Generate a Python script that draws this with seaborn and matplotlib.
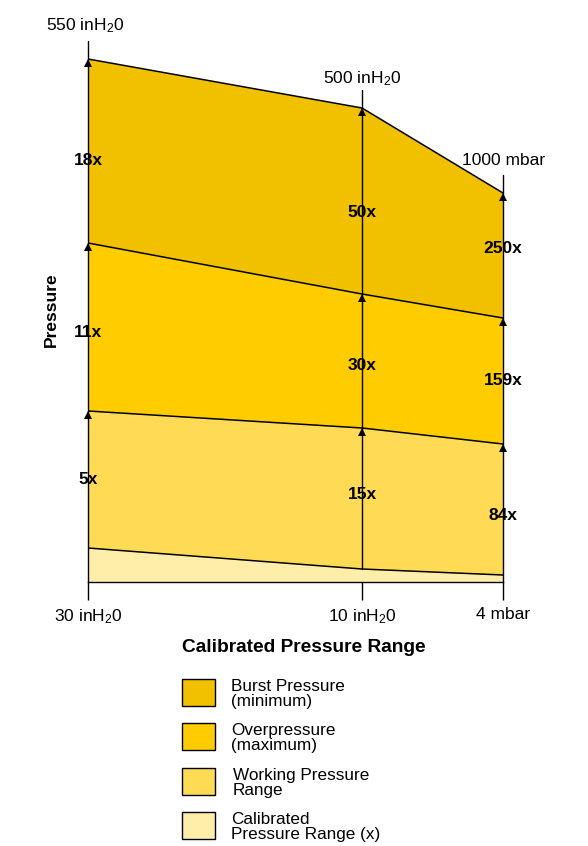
import matplotlib
matplotlib.use("Agg")
import matplotlib.pyplot as plt
from matplotlib.patches import Rectangle
import seaborn as sns
import pandas as pd
import numpy as np

# ---- data (heights, arbitrary pressure units) ----
range_labels = ["30 inH$\\mathregular{_2}$0", "10 inH$\\mathregular{_2}$0", "4 mbar"]
range_pos = [0, 274, 415]
top_labels = ["550 inH$\\mathregular{_2}$0", "500 inH$\\mathregular{_2}$0", "1000 mbar"]
burst = [523, 474, 389]
overpressure = [339, 288, 264]
working = [171, 154, 138]
calibrated = [34, 13, 7]
burst_mult = ["18x", "50x", "250x"]
over_mult = ["11x", "30x", "159x"]
work_mult = ["5x", "15x", "84x"]
band_names = [("Burst Pressure", "(minimum)"), ("Overpressure", "(maximum)"),
              ("Working Pressure", "Range"), ("Calibrated", "Pressure Range (x)")]
band_colors = ["#F1C100", "#FFCC00", "#FFDB55", "#FFEEAA"]

# label placement (layout only)
burst_lab_y = [422, 370, 334]
over_lab_y = [250, 217, 202]
work_lab_y = [103, 88, 66]
top_lab_y = [552, 499, 417]
top_lab_dx = [-3, 0, 1]
legend_text_dx = [0, 0, 2, 0]

sns.set_theme(style="white")
plt.rcParams["font.family"] = ["Liberation Sans", "DejaVu Sans"]
plt.rcParams["mathtext.fontset"] = "custom"
plt.rcParams["mathtext.rm"] = "Liberation Sans"
plt.rcParams["mathtext.it"] = "Liberation Sans:italic"
plt.rcParams["mathtext.bf"] = "Liberation Sans:bold"

W, H = 588, 846
fig = plt.figure(figsize=(W / 100, H / 100), dpi=100)
ax = fig.add_axes([88 / W, (H - 582) / H, 415 / W, 550 / H])
ax.set_xlim(0, 415)
ax.set_ylim(0, 550)

x = np.array(range_pos, dtype=float)
zero = np.zeros(3)
layers = [calibrated, working, overpressure, burst]
lowers = [zero, calibrated, working, overpressure]
cols = band_colors[::-1]
for lo, hi, c in zip(lowers, layers, cols):
    ax.fill_between(x, lo, hi, color=c, lw=0, zorder=1)

df = pd.DataFrame({
    "x": list(x) * 4,
    "y": calibrated + working + overpressure + burst,
    "band": ["cal"] * 3 + ["work"] * 3 + ["over"] * 3 + ["burst"] * 3,
})
sns.lineplot(data=df, x="x", y="y", hue="band", estimator=None, sort=False,
             palette={"cal": "black", "work": "black", "over": "black", "burst": "black"},
             lw=1.1, legend=False, ax=ax, zorder=3)

# vertical reference lines with arrowheads
ext = 18
bottoms = [0, calibrated[1], 0]
for i in range(3):
    ax.plot([x[i], x[i]], [bottoms[i], burst[i] + ext], color="black", lw=1.0,
            zorder=4, clip_on=False)
    for yv in (burst[i], overpressure[i], working[i]):
        ax.plot([x[i]], [yv - 3.5], marker="^", ms=5.5, color="black", mew=0,
                zorder=5, clip_on=False)

# multiplier labels
for i in range(3):
    for yy, lab in ((burst_lab_y[i], burst_mult[i]),
                    (over_lab_y[i], over_mult[i]),
                    (work_lab_y[i], work_mult[i])):
        ax.text(x[i], yy, lab, ha="center", va="center",
                fontsize=12.5, fontweight="bold", color="black", zorder=6)

# top labels
for i in range(3):
    ax.text(x[i] + top_lab_dx[i], top_lab_y[i], top_labels[i], ha="center",
            va="baseline", fontsize=12.5, color="black", clip_on=False)

# axes styling
for s in ("left", "right", "top"):
    ax.spines[s].set_visible(False)
ax.spines["bottom"].set_color("black")
ax.spines["bottom"].set_linewidth(1.0)
ax.spines["bottom"].set_zorder(5)
ax.set_yticks([])
ax.set_xticks(x, range_labels)
ax.tick_params(axis="x", direction="out", length=13, width=1.0, color="black",
               pad=5, labelsize=12.5, labelcolor="black", bottom=True)
ax.grid(False)

ax.set_ylabel("Pressure", fontsize=12.5, fontweight="bold", color="black")
ax.yaxis.set_label_coords((59 - 88) / 415, (582 - 310) / 550)
ax.set_xlabel("Calibrated Pressure Range", fontsize=13.8, fontweight="bold",
              color="black")
ax.xaxis.set_label_coords((304 - 88) / 415, (582 - 639) / 550)

# legend (drawn in figure pixel layout)
lfs = 12.3
for i, (c, (l1, l2)) in enumerate(zip(band_colors, band_names)):
    top = 679 + 44.3 * i
    fig.add_artist(Rectangle((182 / W, 1 - (top + 27) / H), 33 / W, 27 / H,
                             transform=fig.transFigure, facecolor=c,
                             edgecolor="black", linewidth=1.0))
    tx = (231 + legend_text_dx[i]) / W
    b1 = top + 12
    fig.text(tx, 1 - b1 / H, l1, fontsize=lfs, va="baseline", ha="left", color="black")
    fig.text(tx, 1 - (b1 + 15) / H, l2, fontsize=lfs, va="baseline", ha="left", color="black")

fig.savefig("out.png", dpi=100)
